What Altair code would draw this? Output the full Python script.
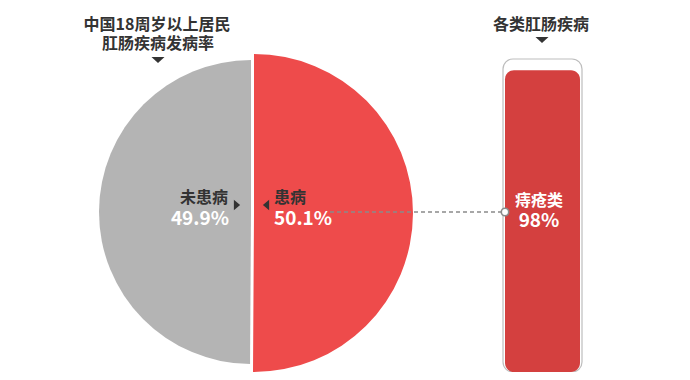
import math
import altair as alt
import pandas as pd

# ---- data ----
title_left = ["中国18周岁以上居民", "肛肠疾病发病率"]
title_right = ["各类肛肠疾病"]
pie_labels = ["患病", "未患病"]
pie_values = [50.1, 49.9]
pie_pct_text = ["50.1%", "49.9%"]
bar_labels = ["痔疮类"]
bar_values = [98]
bar_pct_text = ["98%"]

# ---- styles ----
RED = "#EE4B4B"
GRAY = "#B4B4B4"
BAR_RED = "#D4403F"
DARK = "#333333"
FONT = "Noto Sans CJK SC"
M = 8  # page margin offset (image px -> chart px)


def P(v):
    return v - M


starts = [0, pie_values[0]]
ends = [pie_values[0], pie_values[0] + pie_values[1]]
pie_df = pd.DataFrame({"label": pie_labels, "value": pie_values,
                       "start": starts, "end": ends, "pct": pie_pct_text})
bar_df = pd.DataFrame({"label": bar_labels, "value": bar_values, "pct": bar_pct_text})

theta_scale = alt.Scale(domain=[0, 100], range=[0, 2 * math.pi])


def arc_layer(label, color, cx, cy, r):
    return alt.Chart(pie_df).transform_filter(alt.datum.label == label).mark_arc(
        radius=r, color=color).encode(
        theta=alt.Theta("start:Q", stack=None, scale=theta_scale),
        theta2=alt.Theta2("end:Q"),
        x=alt.value(P(cx)), y=alt.value(P(cy)))


red_arc = arc_layer(pie_labels[0], RED, 254, 213, 159)
gray_arc = arc_layer(pie_labels[1], GRAY, 251, 212, 152)

# container outline behind bar
container = alt.Chart(bar_df).mark_rect(
    fill="white", stroke="#BDBDBD", strokeWidth=1.2, cornerRadius=10).encode(
    x=alt.value(P(503)), x2=alt.value(P(582)),
    y=alt.value(P(59)), y2=alt.value(P(372)))

bar = alt.Chart(bar_df).mark_rect(color=BAR_RED, cornerRadius=9).encode(
    x=alt.value(P(505)), x2=alt.value(P(580)),
    y=alt.Y("value:Q", axis=None,
            scale=alt.Scale(domain=[0, 100], range=[P(372), P(64)])),
    y2=alt.datum(0))

# dashed connector and hollow circle
dash = alt.Chart(bar_df).mark_rule(color="#8A8A8A", strokeWidth=1.3,
                                   strokeDash=[4, 3]).encode(
    x=alt.value(P(330)), x2=alt.value(P(501)), y=alt.value(P(212)))
circle = alt.Chart(bar_df).mark_point(shape="circle", filled=True, fill="white",
                                      stroke="#8A8A8A", strokeWidth=1.6,
                                      size=55, opacity=1).encode(
    x=alt.value(P(505)), y=alt.value(P(212)))


def txt(df, field, x, y, size, color, align="center", filt=None):
    c = alt.Chart(df)
    if filt is not None:
        c = c.transform_filter(filt)
    return c.mark_text(font=FONT, fontWeight="bold", fontSize=size, color=color,
                       align=align, baseline="middle").encode(
        text=f"{field}:N", x=alt.value(P(x)), y=alt.value(P(y)))


tl_df = pd.DataFrame({"t": title_left, "i": [0, 1]})
tr_df = pd.DataFrame({"t": title_right})

t1 = txt(tl_df, "t", 157, 25, 16, DARK, filt=alt.datum.i == 0)
t2 = txt(tl_df, "t", 158, 44, 16, DARK, filt=alt.datum.i == 1)
t3 = txt(tr_df, "t", 541, 25, 16, DARK)

lab_no = txt(pie_df, "label", 228, 198, 16, DARK, align="right",
             filt=alt.datum.label == pie_labels[1])
pct_no = txt(pie_df, "pct", 229, 219, 19, "white", align="right",
             filt=alt.datum.label == pie_labels[1])
lab_yes = txt(pie_df, "label", 274, 198, 16, DARK, align="left",
              filt=alt.datum.label == pie_labels[0])
pct_yes = txt(pie_df, "pct", 274, 219, 19, "white", align="left",
              filt=alt.datum.label == pie_labels[0])
lab_bar = txt(bar_df, "label", 539, 201, 16, "white")
pct_bar = txt(bar_df, "pct", 539, 221, 19, "white")

TRI_DOWN = "M-1,-0.45L1,-0.45L0,0.45Z"
TRI_RIGHT = "M-0.6,-1L0.6,0L-0.6,1Z"
TRI_LEFT = "M0.6,-1L-0.6,0L0.6,1Z"


def tri(shape, x, y, size):
    return alt.Chart(bar_df).mark_point(shape=shape, filled=True, color=DARK,
                                        size=size, opacity=1).encode(
        x=alt.value(P(x)), y=alt.value(P(y)))


tri1 = tri(TRI_DOWN, 158, 60, 170)
tri2 = tri(TRI_DOWN, 542, 40, 170)
tri3 = tri(TRI_RIGHT, 237, 205, 110)
tri4 = tri(TRI_LEFT, 266, 205, 110)

chart = alt.layer(
    gray_arc, red_arc, container, bar, dash, circle,
    t1, t2, t3, lab_no, pct_no, lab_yes, pct_yes, lab_bar, pct_bar,
    tri1, tri2, tri3, tri4
).properties(
    width=674, height=364, padding=0, autosize="none",
    background="white"
).configure_view(stroke=None)

chart.save("out.html", embed_options={"renderer": "svg", "actions": False})
